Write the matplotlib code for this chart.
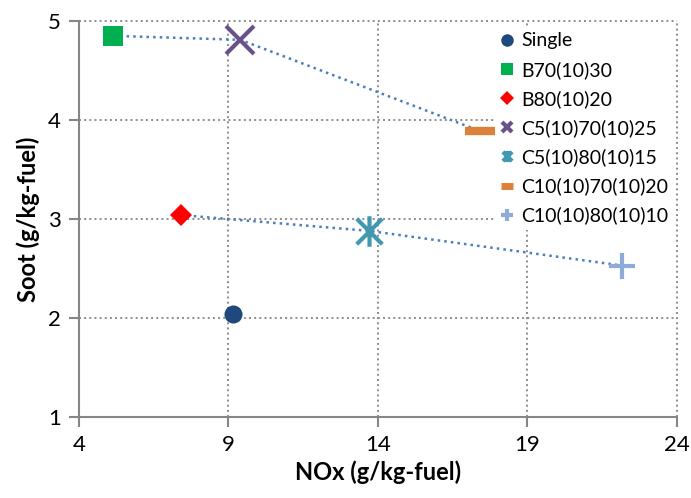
import matplotlib
matplotlib.use("Agg")
import matplotlib.pyplot as plt
from matplotlib.lines import Line2D
from matplotlib.path import Path

plt.rcParams['font.family'] = ['Lato', 'DejaVu Sans']

# Data
series = ["Single", "B70(10)30", "B80(10)20", "C5(10)70(10)25",
          "C5(10)80(10)15", "C10(10)70(10)20", "C10(10)80(10)10"]
nox = [9.15, 5.15, 7.4, 9.4, 13.7, 17.4, 22.15]
soot = [2.04, 4.85, 3.04, 4.81, 2.88, 3.89, 2.53]
line_a = [1, 3, 5]  # B70 -> C5-70 -> C10-70
line_b = [2, 4, 6]  # B80 -> C5-80 -> C10-80
x_ticks = [4, 9, 14, 19, 24]
y_ticks = [1, 2, 3, 4, 5]

star = Path([(-1, -1), (1, 1), (-1, 1), (1, -1), (0, -1.2), (0, 1.2)],
            [Path.MOVETO, Path.LINETO, Path.MOVETO, Path.LINETO, Path.MOVETO, Path.LINETO])

styles = [
    dict(marker='o', ms=13, color='#1f497d', mew=0),
    dict(marker='s', ms=14, color='#00b050', mew=0),
    dict(marker='D', ms=11, color='#ff0000', mew=0),
    dict(marker='x', ms=20, color='#68528a', mew=3),
    dict(marker=star, ms=22, color='#4198b0', mew=3),
    dict(marker='_', ms=21, color='#dd8139', mew=6),
    dict(marker='+', ms=19, color='#8eaad6', mew=3),
]
leg_styles = [
    dict(marker='o', ms=9, color='#1f497d', mew=0),
    dict(marker='s', ms=8, color='#00b050', mew=0),
    dict(marker='D', ms=7, color='#ff0000', mew=0),
    dict(marker='x', ms=7, color='#68528a', mew=3),
    dict(marker=star, ms=8, color='#4198b0', mew=3),
    dict(marker='_', ms=9, color='#dd8139', mew=5),
    dict(marker='+', ms=8, color='#8eaad6', mew=3),
]

fig = plt.figure(figsize=(6.91, 4.98), dpi=100)
ax = fig.add_axes([0.1143, 0.1627, 0.8654, 0.7951])

for idx in (line_a, line_b):
    ax.plot([nox[i] for i in idx], [soot[i] for i in idx], linestyle=':',
            color='#4a7ebb', lw=1.8, zorder=2)

for i, name in enumerate(series):
    st = styles[i]
    ax.plot([nox[i]], [soot[i]], linestyle='none', marker=st['marker'], ms=st['ms'],
            color=st['color'], mew=st['mew'], mec=st['color'], zorder=3,
            solid_capstyle='butt', dash_capstyle='butt')

ax.set_xlim(4, 24)
ax.set_ylim(1, 5)
ax.set_xticks(x_ticks)
ax.set_yticks(y_ticks)
ax.grid(True, color='#8c8c8c', linestyle=':', lw=1.4)
ax.set_axisbelow(True)
for g in ax.get_xgridlines() + ax.get_ygridlines():
    g.set_clip_on(False)
for s in ('top', 'right'):
    ax.spines[s].set_visible(False)
for s in ('left', 'bottom'):
    ax.spines[s].set_color('#868686')
    ax.spines[s].set_linewidth(1.5)
ax.tick_params(axis='both', length=7, width=1.5, color='#868686', labelsize=16, pad=6)
ax.set_xlabel("NOx (g/kg-fuel)", fontsize=17, fontweight='bold', labelpad=4)
ax.set_ylabel("Soot (g/kg-fuel)", fontsize=17, fontweight='bold', labelpad=6)

handles = [Line2D([], [], linestyle='none', marker=st['marker'], ms=st['ms'],
                  color=st['color'], mec=st['color'], mew=st['mew'])
           for st in leg_styles]
leg = ax.legend(handles, series, loc='upper left', bbox_to_anchor=(0.702, 0.966),
                bbox_transform=fig.transFigure, frameon=True, fontsize=14,
                handlelength=0.7, handletextpad=0.35, labelspacing=0.58,
                borderpad=0.3, fancybox=False)
leg.get_frame().set_edgecolor('none')
leg.get_frame().set_facecolor('white')
leg.get_frame().set_alpha(1)

fig.savefig("out.png", dpi=100)
